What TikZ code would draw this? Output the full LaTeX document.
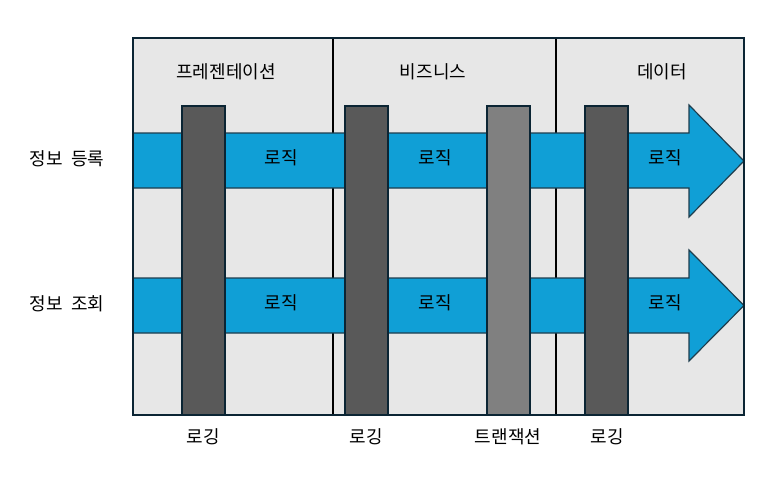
\documentclass[tikz,border=0pt]{standalone}
\usepackage{fontspec}
\setmainfont{Noto Sans CJK KR}
\definecolor{bgray}{HTML}{E7E7E7}
\definecolor{navy}{HTML}{0B2534}
\definecolor{flow}{HTML}{109FD6}
\definecolor{flowline}{HTML}{1E3E4E}
\definecolor{darkbar}{HTML}{595959}
\definecolor{lightbar}{HTML}{808080}
\begin{document}
\begin{tikzpicture}[x=1pt,y=-1pt,
  lbl/.style={font=\fontsize{18}{21}\selectfont, inner sep=0pt, anchor=center},
  flowarrow/.style={fill=flow, draw=flowline, line width=1.2pt, line join=miter},
  barbox/.style={draw=navy, line width=1.6pt},
  divider/.style={draw=black, line width=1.3pt}]
\useasboundingbox (0,0) rectangle (777,479);
% background
\fill[bgray] (133,38) rectangle (744,415);
% column dividers
\draw[divider] (333,38) -- (333,415);
\draw[divider] (556,38) -- (556,415);
% flow arrows
\draw[flowarrow] (133,133) -- (689,133) -- (689,105) -- (744,161) -- (689,217) -- (689,188) -- (133,188) -- cycle;
\draw[flowarrow] (133,278) -- (689,278) -- (689,250) -- (744,305.5) -- (689,361) -- (689,333) -- (133,333) -- cycle;
% bars
\draw[barbox, fill=darkbar] (182,106) rectangle (225,415);
\draw[barbox, fill=darkbar] (345,106) rectangle (388,415);
\draw[barbox, fill=lightbar] (487,106) rectangle (530,415);
\draw[barbox, fill=darkbar] (585,106) rectangle (628,415);
% outer border
\draw[navy, line width=1.8pt] (133,38) rectangle (744,415);
% headers
\node[lbl] (h1) at (226,72) {프레젠테이션};
\node[lbl] (h2) at (433,72) {비즈니스};
\node[lbl] (h3) at (662,72) {데이터};
% row labels
\node[lbl] (r1) at (67,159) {정보\hspace{0.45em}등록};
\node[lbl] (r2) at (67,304) {정보\hspace{0.45em}조회};
% logic labels
\node[lbl] (l11) at (281,158) {로직};
\node[lbl] (l12) at (435,158) {로직};
\node[lbl] (l13) at (665,158) {로직};
\node[lbl] (l21) at (281,303) {로직};
\node[lbl] (l22) at (435,303) {로직};
\node[lbl] (l23) at (665,303) {로직};
% bottom labels
\node[lbl] (b1) at (203,437) {로깅};
\node[lbl] (b2) at (366,437) {로깅};
\node[lbl] (b3) at (508,437) {트랜잭션};
\node[lbl] (b4) at (607,437) {로깅};
\end{tikzpicture}
\end{document}
